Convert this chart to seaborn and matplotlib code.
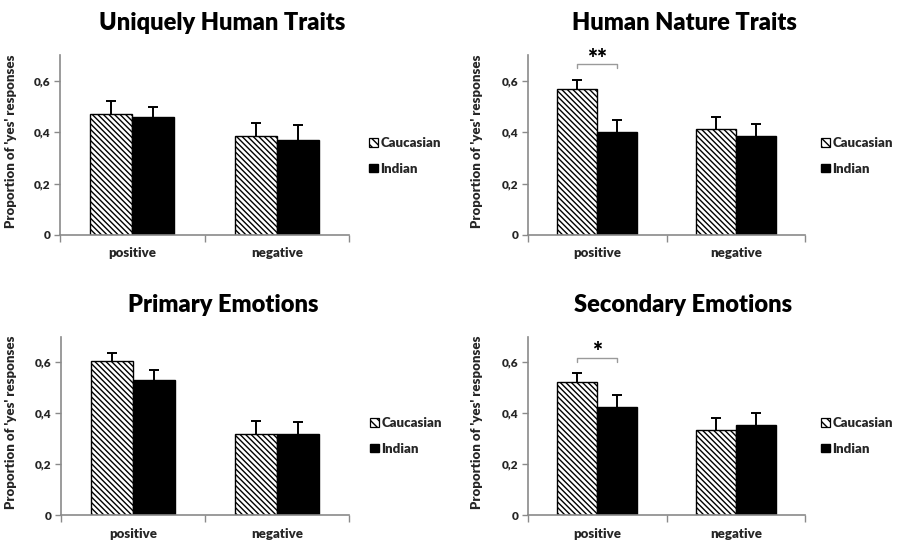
import matplotlib
matplotlib.use("Agg")
import matplotlib.pyplot as plt
from matplotlib.patches import Patch
import seaborn as sns
import pandas as pd

# ---- data -------------------------------------------------------------
panel_titles = ["Uniquely Human Traits", "Human Nature Traits",
                "Primary Emotions", "Secondary Emotions"]
valence = ["positive", "negative"]
groups = ["Caucasian", "Indian"]

uht_caucasian = [0.470, 0.386]
uht_indian = [0.457, 0.371]
uht_caucasian_err = [0.050, 0.050]
uht_indian_err = [0.040, 0.057]

hnt_caucasian = [0.566, 0.411]
hnt_indian = [0.402, 0.384]
hnt_caucasian_err = [0.035, 0.048]
hnt_indian_err = [0.044, 0.046]

pe_caucasian = [0.604, 0.317]
pe_indian = [0.529, 0.318]
pe_caucasian_err = [0.034, 0.053]
pe_indian_err = [0.042, 0.047]

se_caucasian = [0.523, 0.333]
se_indian = [0.424, 0.353]
se_caucasian_err = [0.035, 0.049]
se_indian_err = [0.047, 0.049]

significance = [None, "**", None, "*"]

y_ticks = [0, 0.2, 0.4, 0.6]
y_tick_labels = ["0", "0,2", "0,4", "0,6"]
y_label = "Proportion of 'yes' responses"

# ---- style ------------------------------------------------------------
sns.set_theme(style="white")
plt.rcParams["font.family"] = ["Lato", "DejaVu Sans"]
plt.rcParams["font.weight"] = "heavy"
plt.rcParams["hatch.linewidth"] = 1.0
plt.rcParams["hatch.color"] = "black"

HATCH = "\\" * 6
W, H = 897, 541
fig = plt.figure(figsize=(W / 100, H / 100), dpi=100)
fig.patch.set_facecolor("white")

# axes boxes in pixels: left, right, top, bottom
boxes = [(60, 349, 55, 235), (528, 805, 55, 235),
         (61, 349, 337, 515), (528, 805, 337, 515)]
title_xy = [(222, 23), (684, 23), (223, 305), (683, 305)]
legend_xy = [(369, 156), (821, 156), (370, 436), (821, 436)]
ylabel_px = [17, 483, 17, 483]
bracket = [None, (0.666, 0.648, 0.643), None, (0.617, 0.600, 0.598)]

panel_data = [
    (uht_caucasian, uht_indian, uht_caucasian_err, uht_indian_err),
    (hnt_caucasian, hnt_indian, hnt_caucasian_err, hnt_indian_err),
    (pe_caucasian, pe_indian, pe_caucasian_err, pe_indian_err),
    (se_caucasian, se_indian, se_caucasian_err, se_indian_err),
]

spine_grey = "#8a8a8a"

for i, (cauc, ind, cauc_err, ind_err) in enumerate(panel_data):
    l, r, t, b = boxes[i]
    ax = fig.add_axes([l / W, 1 - b / H, (r - l) / W, (b - t) / H])

    df = pd.DataFrame({
        "valence": valence * 2,
        "group": [groups[0]] * 2 + [groups[1]] * 2,
        "prop": cauc + ind,
    })
    sns.barplot(data=df, x="valence", y="prop", hue="group",
                order=valence, hue_order=groups,
                palette={"Caucasian": "white", "Indian": "black"},
                width=0.58, errorbar=None, edgecolor="black",
                linewidth=1.0, legend=False, ax=ax)

    bar_containers = list(ax.containers)
    errs = [cauc_err, ind_err]
    for gi, cont in enumerate(bar_containers):
        for bi, bar in enumerate(cont.patches):
            if gi == 0:
                bar.set_hatch(HATCH)
            xc = bar.get_x() + bar.get_width() / 2
            h = bar.get_height()
            _, caps, _ = ax.errorbar(xc, h, yerr=[[0], [errs[gi][bi]]],
                                     fmt="none", ecolor="black",
                                     elinewidth=1.4, capsize=3.5,
                                     capthick=1.4, zorder=5)
            # keep only the upper cap
            for cap in caps:
                if abs(cap.get_ydata()[0] - h) < 1e-9:
                    cap.set_visible(False)

    # significance bracket between the positive bars
    if significance[i]:
        y_top, y_tick, y_star = bracket[i]
        b0 = bar_containers[0].patches[0]
        b1 = bar_containers[1].patches[0]
        x0 = b0.get_x() + b0.get_width() / 2
        x1 = b1.get_x() + b1.get_width() / 2
        ax.plot([x0, x0, x1, x1], [y_tick, y_top, y_top, y_tick],
                color="#9a9a9a", lw=1.0, clip_on=False)
        ax.text((x0 + x1) / 2, y_star, significance[i], ha="center",
                va="bottom", fontsize=17, fontweight="heavy", color="black")

    ax.set_ylim(0, 0.7)
    ax.set_xlim(-0.5, 1.5)
    ax.set_yticks(y_ticks)
    ax.set_yticklabels(y_tick_labels, fontsize=8.5, fontweight="heavy")
    ax.tick_params(axis="y", length=4, width=1.0, color=spine_grey,
                   direction="out", pad=3, left=True)
    ax.set_xticks([0, 1])
    ax.set_xticklabels(valence, fontsize=9.5, fontweight="heavy")
    ax.set_xticks([-0.5, 0.5, 1.5], minor=True)
    ax.tick_params(axis="x", which="major", length=0, pad=9)
    ax.tick_params(axis="x", which="minor", length=5, width=1.0,
                   color=spine_grey, direction="out", bottom=True)
    ax.set_xlabel("")
    ax.set_ylabel(y_label, fontsize=9.5, fontweight="heavy")
    ax.yaxis.set_label_coords((ylabel_px[i] - l) / (r - l), 0.52)

    for side in ("top", "right"):
        ax.spines[side].set_visible(False)
    for side in ("left", "bottom"):
        ax.spines[side].set_color(spine_grey)
        ax.spines[side].set_linewidth(1.2)
    ax.set_facecolor("white")

    handles = [Patch(facecolor="white", edgecolor="black", hatch="\\" * 4,
                     linewidth=0.9),
               Patch(facecolor="black", edgecolor="black")]
    lx, ly = legend_xy[i]
    ax.legend(handles, groups, loc="center left",
              bbox_to_anchor=(lx / W, 1 - ly / H),
              bbox_transform=fig.transFigure, frameon=False,
              prop={"size": 9.5, "weight": "heavy"},
              handlelength=0.65, handleheight=0.65, handletextpad=0.2,
              labelspacing=1.0, borderpad=0, borderaxespad=0)

    tx, ty = title_xy[i]
    fig.text(tx / W, 1 - ty / H, panel_titles[i], ha="center", va="center",
             fontsize=17, fontweight="heavy", color="black")

fig.savefig("out.png", dpi=100, facecolor="white")
